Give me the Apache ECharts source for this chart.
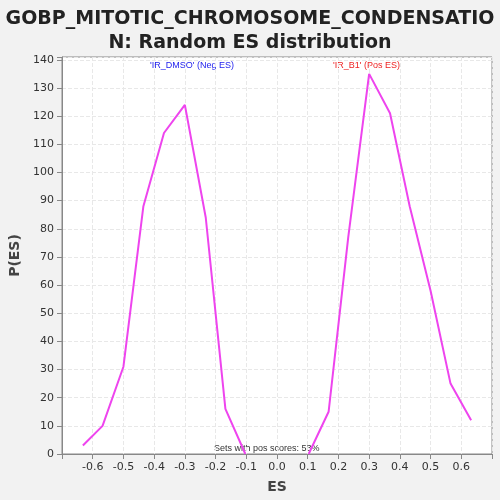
<!DOCTYPE html>
<html>
<head>
<meta charset="utf-8">
<script src="https://cdn.jsdelivr.net/npm/echarts@6/dist/echarts.min.js"></script>
<style>html,body{margin:0;padding:0;background:#f2f2f2;}#chart{width:500px;height:500px;}</style>
</head>
<body>
<div id="chart"></div>
<script>
// 数据
const negES = [-0.632, -0.568, -0.5, -0.435, -0.368, -0.3, -0.232, -0.168, -0.103];
const negP = [3, 10, 31, 88, 114, 124, 84, 16, 0];
const posES = [0.103, 0.168, 0.232, 0.3, 0.368, 0.432, 0.5, 0.565, 0.632];
const posP = [0, 15, 77, 135, 121, 88, 58, 25, 12];

const chart = echarts.init(document.getElementById('chart'));
const lineStyle = {color: '#ee44ee', width: 2};
chart.setOption({
    backgroundColor: '#f2f2f2',
    textStyle: {fontFamily: 'DejaVu Sans'},
    title: {
        text: 'GOBP_MITOTIC_CHROMOSOME_CONDENSATIO\nN: Random ES distribution',
        left: 'center', top: 2,
        textStyle: {fontSize: 19, fontWeight: 'bold', color: '#222', lineHeight: 24}
    },
    grid: {left: 60, right: 8, top: 57, bottom: 46, backgroundColor: '#fff', show: true, borderColor: '#888'},
    xAxis: {
        type: 'value', min: -0.7, max: 0.7, interval: 0.1,
        name: 'ES', nameLocation: 'middle', nameGap: 26,
        nameTextStyle: {fontSize: 14, fontWeight: 'bold', color: '#444'},
        axisLine: {onZero: false, lineStyle: {color: '#888'}},
        axisTick: {show: true},
        axisLabel: {color: '#333', fontSize: 11, formatter: v => Math.abs(v) > 0.65 ? '' : v.toFixed(1)},
        splitLine: {lineStyle: {type: 'dashed', color: '#e8e8e8'}}
    },
    yAxis: {
        type: 'value', min: 0, max: 141, interval: 10,
        name: 'P(ES)', nameLocation: 'middle', nameGap: 40,
        nameTextStyle: {fontSize: 14, fontWeight: 'bold', color: '#444'},
        axisLine: {show: true, onZero: false, lineStyle: {color: '#888'}},
        axisTick: {show: true},
        axisLabel: {color: '#333', fontSize: 11, formatter: v => v % 10 === 0 ? v : ''},
        splitLine: {lineStyle: {type: 'dashed', color: '#e8e8e8'}}
    },
    graphic: [
        {type: 'text', left: 150, top: 61, style: {text: "'IR_DMSO' (Neg ES)", fill: '#2222ee', fontSize: 9}},
        {type: 'text', left: 333, top: 61, style: {text: "'IR_B1' (Pos ES)", fill: '#ee2222', fontSize: 9}},
        {type: 'text', left: 214, top: 444, style: {text: 'Sets with pos scores: 53%', fill: '#333', fontSize: 9}}
    ],
    series: [
        {type: 'line', data: negES.map((x, i) => [x, negP[i]]), symbol: 'none', lineStyle: lineStyle},
        {type: 'line', data: posES.map((x, i) => [x, posP[i]]), symbol: 'none', lineStyle: lineStyle}
    ]
});
</script>
</body>
</html>
